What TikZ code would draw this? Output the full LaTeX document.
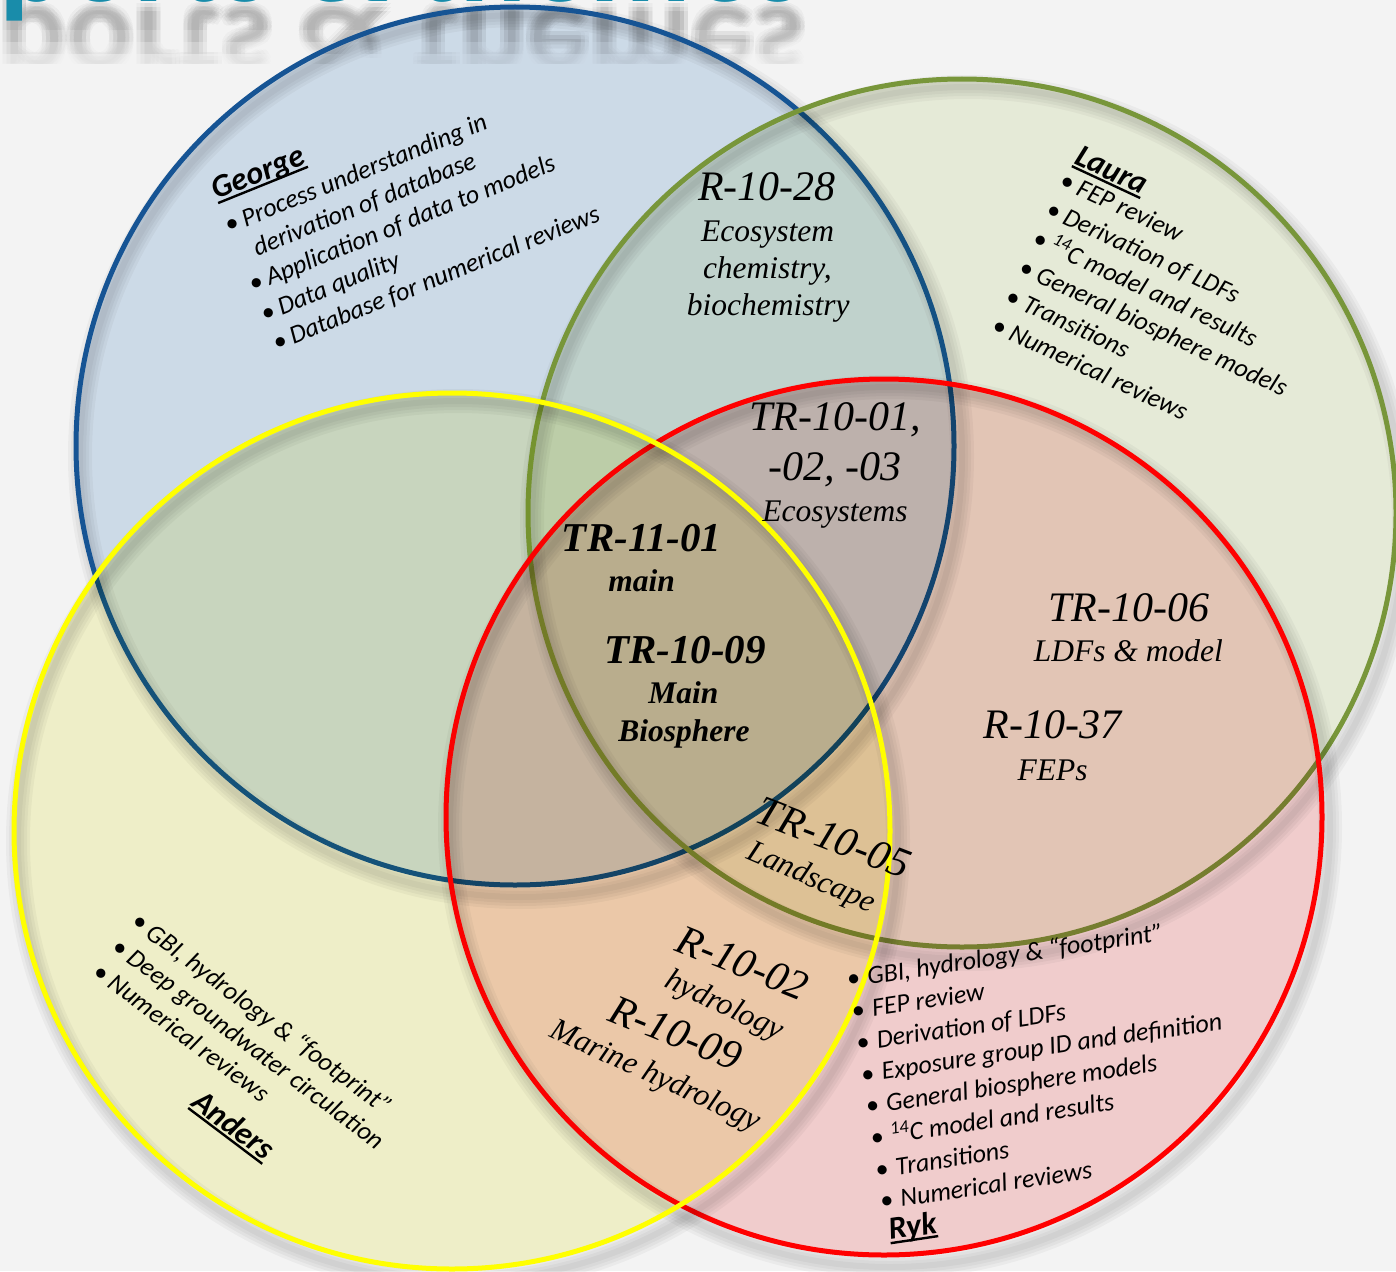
\documentclass[tikz,border=0pt]{standalone}
\usepackage{fontspec}
\setmainfont{Carlito}
\newfontfamily\vserif{Liberation Serif}
\usetikzlibrary{calc}
\definecolor{bgc}{RGB}{243,243,243}
\definecolor{titleteal}{RGB}{25,140,170}
\definecolor{bluestroke}{RGB}{22,84,148}
\definecolor{greenstroke}{RGB}{120,150,58}
\definecolor{redstroke}{RGB}{255,0,0}
\definecolor{yellowstroke}{RGB}{255,255,0}
\definecolor{bluefill}{RGB}{215,229,243}
\definecolor{greenfill}{RGB}{241,246,226}
\definecolor{yellowfill}{RGB}{250,250,210}
\definecolor{redfill}{RGB}{252,215,215}
\newcommand{\vlist}{\fontsize{26}{31}\selectfont\itshape}
\newcommand{\vwho}{\fontsize{32}{38}\selectfont\bfseries\itshape}
\newcommand{\vlab}{\vserif\fontsize{42}{48}\selectfont\itshape}
\newcommand{\vsub}{\vserif\fontsize{31.5}{36}\selectfont\itshape}
\newcommand{\vlabb}{\vserif\fontsize{41}{48}\selectfont\bfseries\itshape}
\newcommand{\vsubb}{\vserif\fontsize{31.5}{36}\selectfont\bfseries\itshape}
\newcommand{\vtitle}{\fontsize{125}{130}\selectfont\bfseries}
\newcommand{\nameul}[1]{\sbox0{#1}\rlap{\rule[-4.5pt]{\wd0}{2.4pt}}\usebox0}
\begin{document}
\begin{tikzpicture}[x=1pt,y=-1pt,
  lst/.style={anchor=base west, inner sep=0pt, font=\vlist},
  bul/.style={anchor=base, inner sep=0pt, font=\vlist},
  who/.style={anchor=base west, inner sep=0pt, font=\vwho},
  lab/.style={anchor=base, inner sep=0pt, font=\vlab},
  sub/.style={anchor=base, inner sep=0pt, font=\vsub},
  labb/.style={anchor=base, inner sep=0pt, font=\vlabb},
  subb/.style={anchor=base, inner sep=0pt, font=\vsubb},
  shadowring/.style={black, opacity=0.035}
]
\useasboundingbox (0,0) rectangle (1396,1271);
\clip (0,0) rectangle (1396,1271);
\fill[bgc] (0,0) rectangle (1396,1271);

% title (cut off at the top) and its faded, blurred reflection
\foreach \lim [count=\j] in {30,42,54,64} {
  \begin{scope}
    \clip (0,0) rectangle (1396,\lim);
    \foreach \dx/\dy [count=\i] in {-4/-4,0/-4,4/-4,-4/0,0/0,4/0,-4/4,0/4,4/4} {
      \begin{scope}[shift={(\dx,8+\dy)}, yscale=-1, transform shape]
        \node[anchor=base west, inner sep=0pt, font=\vtitle, text=gray, opacity=0.015] (rf\j\i) at (-132,0) {Reports \& themes};
      \end{scope}
    }
  \end{scope}
}
\node[anchor=base west, inner sep=0pt, font=\vtitle, text=titleteal] (title) at (-132,2) {Reports \& themes};

% circle centres
\coordinate (cB) at (515,446);
\coordinate (cG) at (962,513);
\coordinate (cR) at (884,817);
\coordinate (cY) at (452,831);

% blue (George)
\foreach \w in {6,12,18,24} \draw[shadowring, line width=\w pt] ($(cB)+(6,10)$) circle[radius=441pt];
\begin{scope}[blend mode=multiply]\fill[bluefill] (cB) circle[radius=439pt];\end{scope}
\draw[bluestroke, line width=5pt] (cB) circle[radius=439pt];
% green (Laura)
\foreach \w in {6,12,18,24} \draw[shadowring, line width=\w pt] ($(cG)+(6,10)$) circle[radius=436pt];
\begin{scope}[blend mode=multiply]\fill[greenfill] (cG) circle[radius=434pt];\end{scope}
\draw[greenstroke, line width=5pt] (cG) circle[radius=434pt];
% red (Ryk)
\foreach \w in {6,12,18,24} \draw[shadowring, line width=\w pt] ($(cR)+(6,10)$) circle[radius=440pt];
\begin{scope}[blend mode=multiply]\fill[redfill] (cR) circle[radius=438pt];\end{scope}
\draw[redstroke, line width=5pt] (cR) circle[radius=438pt];
% yellow (Anders)
\foreach \w in {6,12,18,24} \draw[shadowring, line width=\w pt] ($(cY)+(6,10)$) circle[radius=440pt];
\begin{scope}[blend mode=multiply]\fill[yellowfill] (cY) circle[radius=438pt];\end{scope}
\draw[yellowstroke, line width=5pt] (cY) circle[radius=438pt];

% George
\begin{scope}[shift={(231.7,224)}, rotate=22, transform shape]
  \node[who] (george) at (-4.9,-27.8) {\nameul{George}};
  \node[bul] (gb0) at (0,8) {\textbullet};
  \node[lst] (gt0) at (11.5,8) {Process understanding in};
  \node[lst] (gt1) at (11.5,39.8) {derivation of database};
  \node[bul] (gb2) at (0.5,71.6) {\textbullet};
  \node[lst] (gt2) at (12,71.6) {Application of data to models};
  \node[bul] (gb3) at (0.5,103.4) {\textbullet};
  \node[lst] (gt3) at (12,103.4) {Data quality};
  \node[bul] (gb4) at (0.5,135.2) {\textbullet};
  \node[lst] (gt4) at (12,135.2) {Database for numerical reviews};
\end{scope}

% Laura
\begin{scope}[shift={(1067.3,181.7)}, rotate=-25, transform shape]
  \node[who] (laura) at (-2.7,-19.3) {\nameul{Laura}};
  \foreach \t [count=\i from 0] in {{FEP review},{Derivation of LDFs},{\textsuperscript{14}C model and results},{General biosphere models},{Transitions},{Numerical reviews}} {
    \node[bul] (lb\i) at (0,{8+32*\i}) {\textbullet};
    \node[lst] (lt\i) at (12,{8+32*\i}) {\t};
  }
\end{scope}

% Anders
\begin{scope}[shift={(140,922.3)}, rotate=-37, transform shape]
  \foreach \t [count=\i from 0] in {{GBI, hydrology \& “footprint”},{Deep groundwater circulation},{Numerical reviews}} {
    \node[bul] (ab\i) at (0,{8+31.7*\i}) {\textbullet};
    \node[lst] (at\i) at (12,{8+31.7*\i}) {\t};
  }
  \node[who] (anders) at (150,116) {\nameul{Anders}};
\end{scope}

% Ryk
\begin{scope}[shift={(853.3,979)}, rotate=8.5, transform shape]
  \foreach \t [count=\i from 0] in {{GBI, hydrology \& “footprint”},{FEP review},{Derivation of LDFs},{Exposure group ID and definition},{General biosphere models},{\textsuperscript{14}C model and results},{Transitions},{Numerical reviews}} {
    \node[bul] (rb\i) at (0,{8+32.06*\i}) {\textbullet};
    \node[lst] (rt\i) at (14,{8+32.06*\i}) {\t};
  }
  \node[who] (ryk) at (-2.3,263.5) {\nameul{Ryk}};
\end{scope}

% report labels
\node[lab] (r1028) at (767,200.7) {R-10-28};
\node[sub] (r1028a) at (767.5,241.7) {Ecosystem};
\node[sub] (r1028b) at (767.3,278.3) {chemistry,};
\node[sub] (r1028c) at (768.3,315) {biochemistry};
\node[lab] (tr1001) at (835,430.7) {TR-10-01,};
\node[lab] (tr1001b) at (835,480) {-02, -03};
\node[sub] (tr1001c) at (835,521.7) {Ecosystems};
\node[labb] (tr1101) at (641.7,551.7) {TR-11-01};
\node[subb] (tr1101a) at (641.7,591.7) {main};
\node[labb] (tr1009) at (685,663.3) {TR-10-09};
\node[subb] (tr1009a) at (683.3,703.3) {Main};
\node[subb] (tr1009b) at (684,741.7) {Biosphere};
\node[lab] (tr1006) at (1129,621.7) {TR-10-06};
\node[sub] (tr1006a) at (1128.3,661.7) {LDFs \& model};
\node[lab] (r1037) at (1052.5,738.3) {R-10-37};
\node[sub] (r1037a) at (1052.5,780) {FEPs};
\node[lab, anchor=base west, rotate=-21] (tr1005) at (753.3,821.7) {TR-10-05};
\node[sub, anchor=base west, rotate=-23.5] (tr1005a) at (745,858.3) {Landscape};
\node[lab, anchor=base west, rotate=-22] (r1002) at (673.3,950) {R-10-02};
\node[sub, anchor=base west, rotate=-25] (r1002a) at (663.3,986.7) {hydrology};
\node[lab, anchor=base west, rotate=-22] (r1009) at (606.7,1020) {R-10-09};
\node[sub, anchor=base west, rotate=-24.5] (r1009a) at (548.3,1036.7) {Marine hydrology};
\end{tikzpicture}
\end{document}
